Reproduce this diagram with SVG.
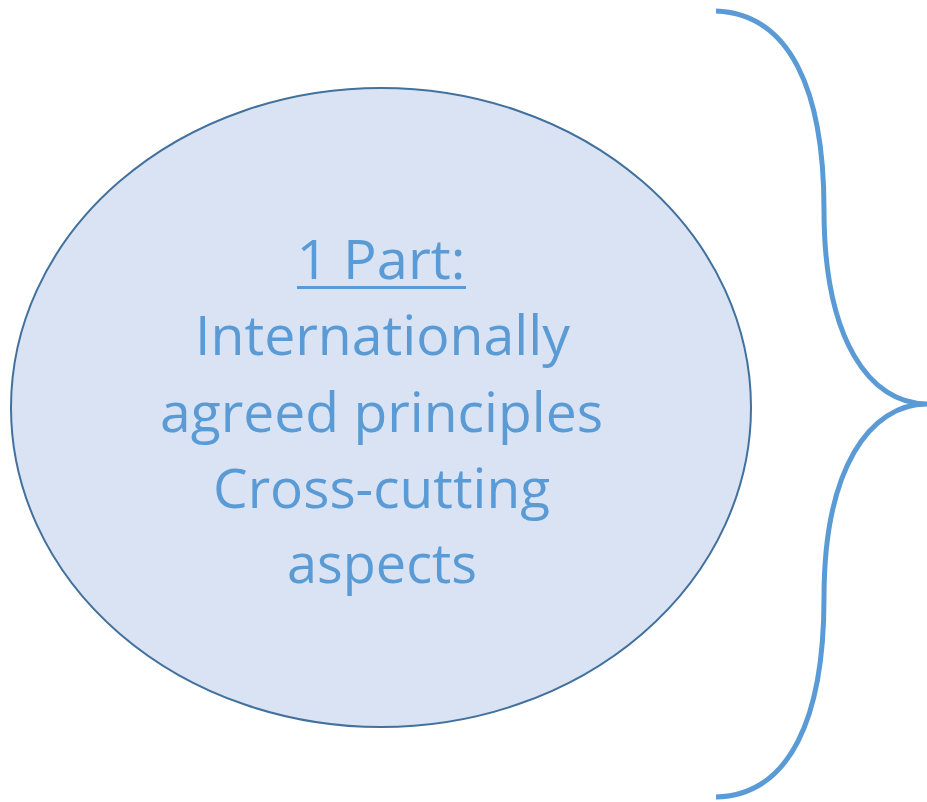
<svg xmlns="http://www.w3.org/2000/svg" width="927" height="802" viewBox="0 0 927 802">
<style>
.t{font-family:"Open Sans","Noto Sans","Liberation Sans",sans-serif;font-size:54px;fill:#5b9bd5;text-anchor:middle}
</style>
<rect width="927" height="802" fill="#ffffff"/>
<g id="node-part1">
<ellipse cx="381" cy="407.5" rx="370" ry="319.5" fill="#dae3f3" stroke="#41719c" stroke-width="2"/>
<text class="t" x="381" y="279" textLength="169" lengthAdjust="spacingAndGlyphs">1 Part:</text>
<rect x="297" y="286" width="169" height="3" fill="#5b9bd5"/>
<text class="t" x="382.5" y="355" textLength="375" lengthAdjust="spacingAndGlyphs">Internationally</text>
<text class="t" x="381.5" y="432" textLength="443" lengthAdjust="spacingAndGlyphs">agreed principles</text>
<text class="t" x="381.5" y="508" textLength="337" lengthAdjust="spacingAndGlyphs">Cross-cutting</text>
<text class="t" x="382" y="583" textLength="190" lengthAdjust="spacingAndGlyphs">aspects</text>
</g>
<g id="connectors">
<path d="M716,11 C790,14 824,90 824,210 C824,340 870,404 927,404 C870,404 824,468 824,598 C824,718 790,795 716,797" fill="none" stroke="#5b9bd5" stroke-width="5"/>
</g>
</svg>
